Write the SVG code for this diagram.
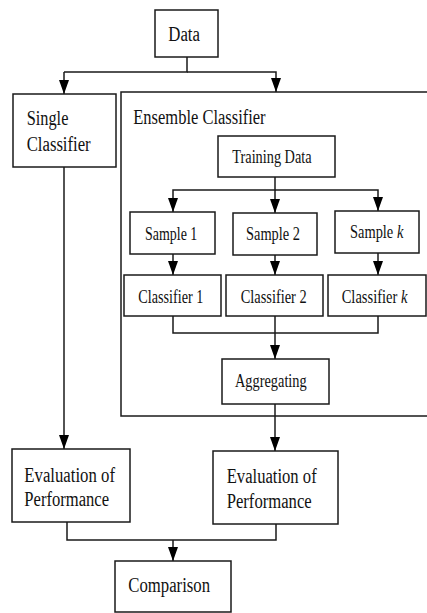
<svg xmlns="http://www.w3.org/2000/svg" width="427" height="613" viewBox="0 0 427 613">
<defs>
<style>
.box{fill:#fff;stroke:#1a1a1a;stroke-width:1.5}
.ln{fill:none;stroke:#1a1a1a;stroke-width:1.5}
.t{font-family:"Liberation Serif","Times New Roman",serif;fill:#111;font-size:20px}
.s{font-size:19px}
</style>
<marker id="ah" viewBox="0 0 14 10" refX="14" refY="5" markerWidth="14" markerHeight="10" markerUnits="userSpaceOnUse" orient="auto">
<path d="M0,0 L14,5 L0,10 z" fill="#000"/>
</marker>
</defs>
<rect width="427" height="613" fill="#fff"/>
<g id="ensemble">
<rect class="box" x="121" y="92" width="320" height="324"/>
<text class="t" x="133.3" y="124" textLength="132.3" lengthAdjust="spacingAndGlyphs">Ensemble Classifier</text>
</g>
<g id="connectors">
<path class="ln" d="M187,57 V72 H64"/>
<path class="ln" d="M64,72 V94" marker-end="url(#ah)"/>
<path class="ln" d="M187,72 H276 V92" marker-end="url(#ah)"/>
<path class="ln" d="M275,177 V190 H173 V212" marker-end="url(#ah)"/>
<path class="ln" d="M275,190 V213" marker-end="url(#ah)"/>
<path class="ln" d="M275,190 H378 V211" marker-end="url(#ah)"/>
<path class="ln" d="M173,254 V275" marker-end="url(#ah)"/>
<path class="ln" d="M275,255 V275" marker-end="url(#ah)"/>
<path class="ln" d="M378,253 V275" marker-end="url(#ah)"/>
<path class="ln" d="M173,316 V333 H378 V316"/>
<path class="ln" d="M275,316 V359" marker-end="url(#ah)"/>
<path class="ln" d="M275,404 V451" marker-end="url(#ah)"/>
<path class="ln" d="M64,167 V449" marker-end="url(#ah)"/>
<path class="ln" d="M67,522 V540 H276 V524"/>
<path class="ln" d="M173,540 V561" marker-end="url(#ah)"/>
</g>
<g id="data">
<rect class="box" x="155" y="10" width="63" height="47"/>
<text class="t" x="168.3" y="40.7" font-size="21" textLength="31.7" lengthAdjust="spacingAndGlyphs">Data</text>
</g>
<g id="single">
<rect class="box" x="13" y="94" width="103" height="73"/>
<text class="t" x="26.7" y="125" textLength="41.7" lengthAdjust="spacingAndGlyphs">Single</text>
<text class="t" x="26.7" y="150.5" textLength="64" lengthAdjust="spacingAndGlyphs">Classifier</text>
</g>
<g id="training">
<rect class="box" x="218" y="136" width="117" height="41"/>
<text class="t s" x="232.3" y="163.3" textLength="79.3" lengthAdjust="spacingAndGlyphs">Training Data</text>
</g>
<g id="sample1">
<rect class="box" x="130" y="212" width="85" height="42"/>
<text class="t s" x="145" y="239.5" textLength="52.3" lengthAdjust="spacingAndGlyphs">Sample 1</text>
</g>
<g id="sample2">
<rect class="box" x="233" y="213" width="84" height="42"/>
<text class="t s" x="246" y="240" textLength="54" lengthAdjust="spacingAndGlyphs">Sample 2</text>
</g>
<g id="samplek">
<rect class="box" x="335" y="211" width="84" height="42"/>
<text class="t s" transform="translate(350,238.3) scale(0.76,1)">Sample <tspan font-style="italic">k</tspan></text>
</g>
<g id="classifier1">
<rect class="box" x="124" y="275" width="97" height="41"/>
<text class="t s" x="138.3" y="302.7" textLength="65" lengthAdjust="spacingAndGlyphs">Classifier 1</text>
</g>
<g id="classifier2">
<rect class="box" x="226" y="275" width="97" height="41"/>
<text class="t s" x="240.7" y="302.7" textLength="66" lengthAdjust="spacingAndGlyphs">Classifier 2</text>
</g>
<g id="classifierk">
<rect class="box" x="328" y="275" width="98" height="41"/>
<text class="t s" transform="translate(341.7,302.7) scale(0.764,1)">Classifier <tspan font-style="italic">k</tspan></text>
</g>
<g id="aggregating">
<rect class="box" x="222" y="359" width="107" height="45"/>
<text class="t s" x="235" y="387" textLength="71.7" lengthAdjust="spacingAndGlyphs">Aggregating</text>
</g>
<g id="eval-left">
<rect class="box" x="12" y="449" width="118" height="73"/>
<text class="t" x="24.3" y="481.7" textLength="90.7" lengthAdjust="spacingAndGlyphs">Evaluation of</text>
<text class="t" x="24.3" y="506" textLength="84.7" lengthAdjust="spacingAndGlyphs">Performance</text>
</g>
<g id="eval-right">
<rect class="box" x="213" y="451" width="125" height="73"/>
<text class="t" x="226.7" y="483" textLength="90" lengthAdjust="spacingAndGlyphs">Evaluation of</text>
<text class="t" x="226.7" y="508" textLength="85" lengthAdjust="spacingAndGlyphs">Performance</text>
</g>
<g id="comparison">
<rect class="box" x="115" y="561" width="116" height="51"/>
<text class="t" x="128.3" y="591.7" textLength="81.7" lengthAdjust="spacingAndGlyphs">Comparison</text>
</g>
</svg>
